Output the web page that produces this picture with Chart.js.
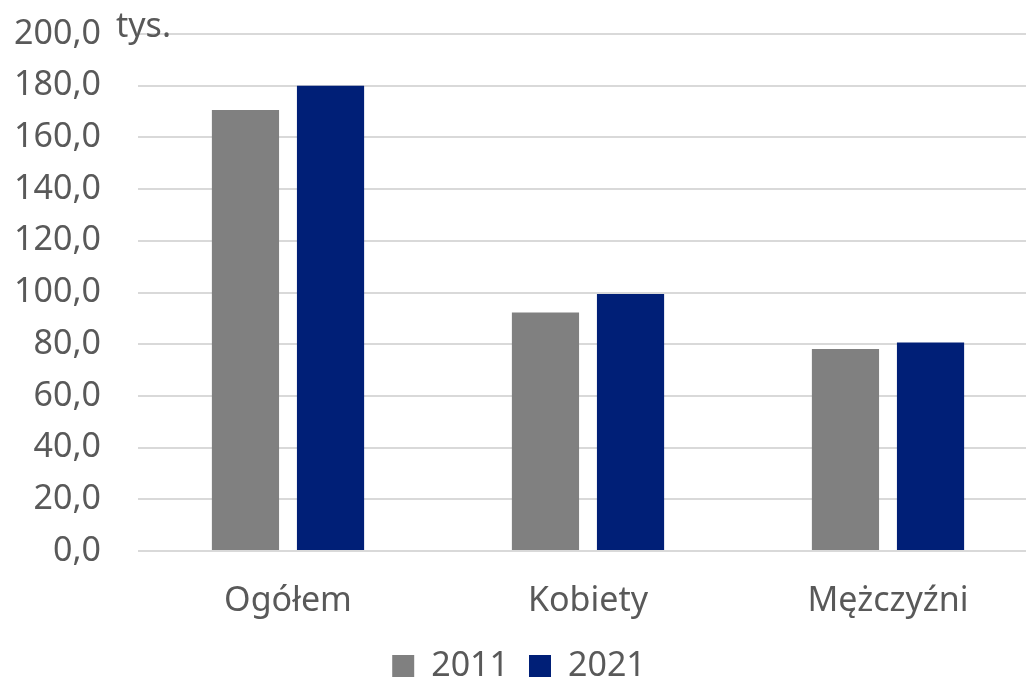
<!DOCTYPE html>
<html lang="pl">
<head>
<meta charset="utf-8">
<script src="https://cdn.jsdelivr.net/npm/chart.js@4.4.1/dist/chart.umd.min.js"></script>
<style>
  html, body { margin: 0; padding: 0; overflow: hidden; background: #fff; }
  #wrap { width: 1040px; height: 683px; position: relative; }
</style>
</head>
<body>
<div id="wrap"><canvas id="chart"></canvas></div>
<script>
// Dane
const categories = ['Ogółem', 'Kobiety', 'Mężczyźni'];
const seriesLabels = ['2011', '2021'];
const values2011 = [170.6, 92.3, 78.1];
const values2021 = [180.0, 99.4, 80.7];
const unitLabel = 'tys.';

const FONT = "'Noto Sans', 'Open Sans', sans-serif";
const TEXT = '#595959';
const SIZE = 34;

// napis "tys." nad osią
const unitPlugin = {
    id: 'unitLabel',
    afterDraw(chart) {
        const c = chart.ctx;
        const y = chart.scales.y;
        c.save();
        c.font = SIZE + 'px ' + FONT;
        c.fillStyle = TEXT;
        c.textAlign = 'left';
        c.textBaseline = 'middle';
        c.fillText(unitLabel, y.right - 22, y.top - 7);
        c.restore();
    }
};

const ctx = document.getElementById('chart').getContext('2d');
new Chart(ctx, {
    type: 'bar',
    data: {
        labels: categories,
        datasets: [
            { label: seriesLabels[0], data: values2011, backgroundColor: '#808080' },
            { label: seriesLabels[1], data: values2021, backgroundColor: '#001f77' }
        ]
    },
    options: {
        responsive: true,
        maintainAspectRatio: false,
        animation: false,
        categoryPercentage: 0.567,
        barPercentage: 0.79,
        layout: { padding: { top: 34, right: 2, left: 0, bottom: -10 } },
        scales: {
            x: {
                grid: { display: false, drawTicks: false },
                border: { display: false },
                ticks: { color: TEXT, font: { family: FONT, size: SIZE }, padding: 30 },
                afterFit: s => { s.height = 78; }
            },
            y: {
                min: 0,
                max: 200,
                ticks: {
                    stepSize: 20,
                    color: TEXT,
                    font: { family: FONT, size: SIZE },
                    padding: 37,
                    callback: v => v.toFixed(1).replace('.', ',')
                },
                grid: { color: '#d9d9d9', lineWidth: 2, drawTicks: false },
                border: { display: false },
                // oś Y: stała szerokość, bez dodatkowego marginesu u góry
                afterFit: s => { s.width = 138; s.paddingTop = 0; s.paddingBottom = 0; }
            }
        },
        plugins: {
            legend: {
                position: 'bottom',
                labels: {
                    color: TEXT,
                    font: { family: FONT, size: SIZE },
                    boxWidth: 22,
                    boxHeight: 22,
                    padding: 20
                }
            },
            tooltip: { enabled: false }
        }
    },
    plugins: [unitPlugin]
});
</script>
</body>
</html>
